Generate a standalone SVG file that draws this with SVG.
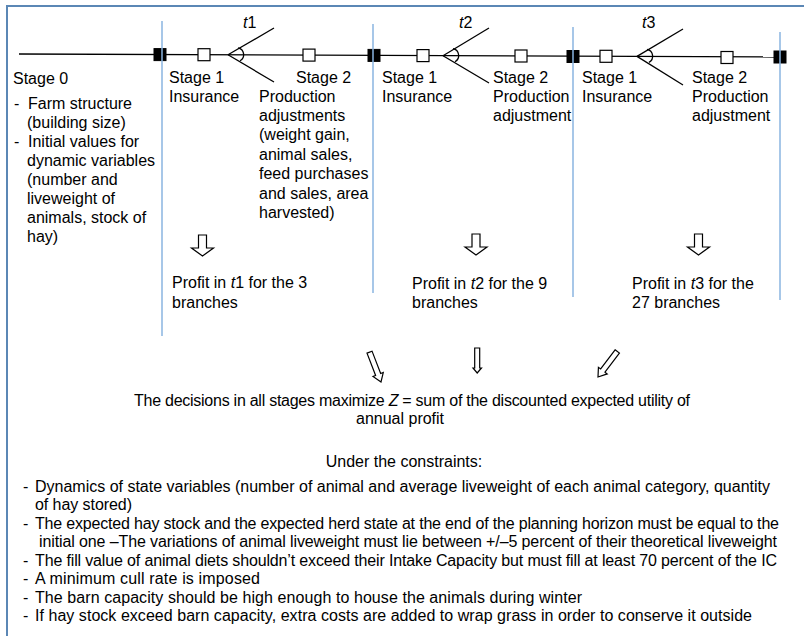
<svg xmlns="http://www.w3.org/2000/svg" width="804" height="636" viewBox="0 0 804 636">
<style>
text{font-family:"Liberation Sans",Arial,Helvetica,sans-serif;font-size:16px;fill:#000}
.it{font-style:italic}
.ln{stroke:#000;stroke-width:1.3;fill:none}
.sq{fill:#fff;stroke:#000;stroke-width:1.2}
.bk{fill:#000;stroke:#000;stroke-width:1}
.vl{stroke:#8ab4e0;stroke-width:1.5;fill:none}
.ar{fill:#fff;stroke:#000;stroke-width:1.2;stroke-linejoin:miter}
</style>
<defs>
<path id="arc" d="M 10 -7 A 7 7 0 0 1 12 6" class="ln"/>
<polygon id="bigdown" points="-4,0 4,0 4,13 11,13 0,21 -11,13 -4,13"/>
<polygon id="thin" points="-2.7,-32 2.7,-32 2.7,-8 5.5,-8 0,0 -5.5,-8 -2.7,-8"/>
</defs>
<rect x="7" y="6" width="820" height="660" fill="#fff" stroke="#5b87b5" stroke-width="2"/>
<g id="connectors">
<line class="ln" x1="19" y1="54" x2="780" y2="57"/>
<line class="ln" x1="228" y1="54.8" x2="274" y2="28"/>
<line class="ln" x1="228" y1="54.8" x2="274" y2="82"/>
<use href="#arc" transform="translate(228,54.8)"/>
<line class="ln" x1="443" y1="55.7" x2="489" y2="28"/>
<line class="ln" x1="443" y1="55.7" x2="489" y2="83"/>
<use href="#arc" transform="translate(443,55.7)"/>
<line class="ln" x1="637" y1="56.4" x2="683" y2="29"/>
<line class="ln" x1="637" y1="56.4" x2="683" y2="85"/>
<use href="#arc" transform="translate(637,56.4)"/>
</g>
<g id="decision-nodes">
<rect class="bk" x="154" y="48.6" width="12" height="12"/>
<rect class="sq" x="198" y="48.7" width="12" height="12"/>
<rect class="sq" x="303" y="49.1" width="12" height="12"/>
<rect class="bk" x="368" y="49.4" width="12" height="12"/>
<rect class="sq" x="417" y="49.6" width="12" height="12"/>
<rect class="sq" x="515" y="50" width="12" height="12"/>
<rect class="bk" x="567" y="50.5" width="12" height="12"/>
<rect class="sq" x="600" y="50.3" width="12" height="12"/>
<rect class="sq" x="721" y="51.5" width="12" height="12"/>
<rect class="bk" x="774" y="51" width="12" height="12"/>
</g>
<g id="stage-dividers">
<line class="vl" x1="162" y1="21" x2="162" y2="336"/>
<line class="vl" x1="373" y1="24" x2="373" y2="293"/>
<line class="vl" x1="573" y1="27" x2="573" y2="297"/>
<line class="vl" x1="780" y1="32" x2="780" y2="300"/>
</g>
<g id="time-labels">
<text x="243" y="28"><tspan class="it">t</tspan>1</text>
<text x="459" y="28"><tspan class="it">t</tspan>2</text>
<text x="642" y="28"><tspan class="it">t</tspan>3</text>
</g>
<g id="stage0">
<text x="13" y="84">Stage 0</text>
<text x="14" y="109">-</text><text x="28" y="109">Farm structure</text>
<text x="27" y="128">(building size)</text>
<text x="14" y="147">-</text><text x="28" y="147">Initial values for</text>
<text x="27" y="166">dynamic variables</text>
<text x="27" y="185">(number and</text>
<text x="27" y="204">liveweight of</text>
<text x="27" y="223">animals, stock of</text>
<text x="27" y="242">hay)</text>
</g>
<g id="t1-stage1"><text x="169" y="83">Stage 1</text><text x="169" y="102">Insurance</text></g>
<g id="t1-stage2">
<text x="296" y="83">Stage 2</text>
<text x="259" y="102">Production</text>
<text x="259" y="121">adjustments</text>
<text x="259" y="140">(weight gain,</text>
<text x="259" y="160">animal sales,</text>
<text x="259" y="179">feed purchases</text>
<text x="259" y="199">and sales, area</text>
<text x="259" y="218">harvested)</text>
</g>
<g id="t2-stage1"><text x="382" y="83">Stage 1</text><text x="382" y="102">Insurance</text></g>
<g id="t2-stage2"><text x="493" y="83">Stage 2</text><text x="493" y="102">Production</text><text x="493" y="121">adjustment</text></g>
<g id="t3-stage1"><text x="582" y="83">Stage 1</text><text x="582" y="102">Insurance</text></g>
<g id="t3-stage2"><text x="692" y="83">Stage 2</text><text x="692" y="102">Production</text><text x="692" y="121">adjustment</text></g>
<g id="profit-arrows">
<use href="#bigdown" class="ar" transform="translate(202.5,235)"/>
<use href="#bigdown" class="ar" transform="translate(476,234)"/>
<use href="#bigdown" class="ar" transform="translate(698.5,234)"/>
</g>
<g id="profit-t1"><text x="172" y="288">Profit in <tspan class="it">t</tspan>1 for the 3</text><text x="172" y="308">branches</text></g>
<g id="profit-t2"><text x="412" y="289">Profit in <tspan class="it">t</tspan>2 for the 9</text><text x="412" y="308">branches</text></g>
<g id="profit-t3"><text x="632" y="289">Profit in <tspan class="it">t</tspan>3 for the</text><text x="632" y="308">27 branches</text></g>
<g id="objective-arrows">
<use href="#thin" class="ar" transform="translate(381,382) rotate(-21)"/>
<polygon class="ar" points="474.7,348 479.7,348 479.7,368 481.5,368 477.2,373 473,368 474.7,368"/>
<use href="#thin" class="ar" transform="translate(598,377) rotate(37)"/>
</g>
<g id="objective">
<text x="134" y="406" textLength="556" lengthAdjust="spacing">The decisions in all stages maximize <tspan class="it">Z</tspan> = sum of the discounted expected utility of</text>
<text x="356" y="424">annual profit</text>
</g>
<g id="constraints">
<text x="404" y="467" text-anchor="middle">Under the constraints:</text>
<text x="23" y="492">-</text><text x="35" y="492" textLength="735" lengthAdjust="spacing">Dynamics of state variables (number of animal and average liveweight of each animal category, quantity</text>
<text x="35" y="510" textLength="97" lengthAdjust="spacing">of hay stored)</text>
<text x="23" y="529">-</text><text x="35" y="529" textLength="744" lengthAdjust="spacing">The expected hay stock and the expected herd state at the end of the planning horizon must be equal to the</text>
<text x="39" y="547" textLength="738" lengthAdjust="spacing">initial one –The variations of animal liveweight must lie between +/–5 percent of their theoretical liveweight</text>
<text x="23" y="566">-</text><text x="35" y="566" textLength="742" lengthAdjust="spacing">The fill value of animal diets shouldn’t exceed their Intake Capacity but must fill at least 70 percent of the IC</text>
<text x="23" y="584">-</text><text x="35" y="584" textLength="225" lengthAdjust="spacing">A minimum cull rate is imposed</text>
<text x="23" y="603">-</text><text x="35" y="603" textLength="547" lengthAdjust="spacing">The barn capacity should be high enough to house the animals during winter</text>
<text x="23" y="621">-</text><text x="35" y="621" textLength="717" lengthAdjust="spacing">If hay stock exceed barn capacity, extra costs are added to wrap grass in order to conserve it outside</text>
</g>
</svg>
